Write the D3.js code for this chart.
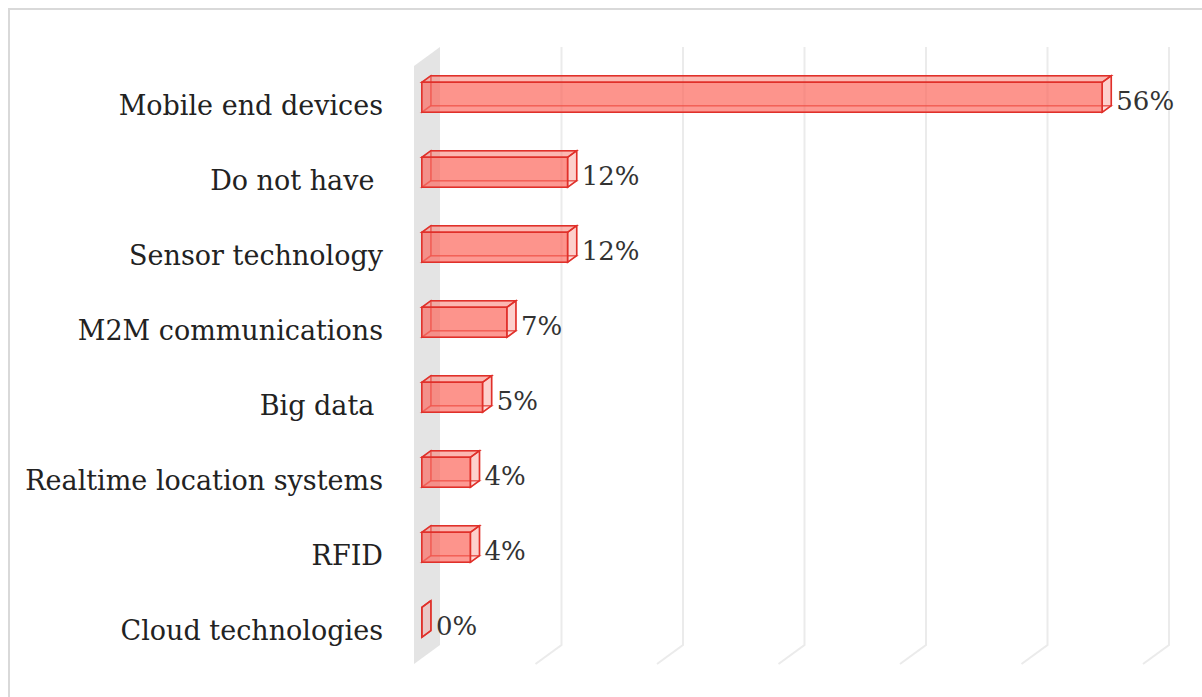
<!DOCTYPE html>
<html>
<head>
<meta charset="utf-8">
<script src="https://cdn.jsdelivr.net/npm/d3@7"></script>
<style>
  body { margin: 0; background: #fff; }
  text { white-space: pre; }
</style>
</head>
<body>
<div id="vis-holder"></div>
<script>
// Data
const categories = ["Mobile end devices", "Do not have ", "Sensor technology", "M2M communications",
                    "Big data ", "Realtime location systems", "RFID", "Cloud technologies"];
const values = [56, 12, 12, 7, 5, 4, 4, 0];
const ticks = [0, 10, 20, 30, 40, 50, 60];

const width = 1202;
const height = 697;

// 3D look: depth offset from front plane (z=0) to back wall (z=1)
const depthX = 26, depthY = -19;
const barZ0 = 0.3, barZ1 = 0.65;
const barH = 30;

const svg = d3.select("#vis-holder")
    .append("svg")
    .attr("width", width)
    .attr("height", height);

// outer frame (only top & left visible)
svg.append("rect")
    .attr("x", 9).attr("y", 9)
    .attr("width", 1210).attr("height", 710)
    .attr("fill", "#fff")
    .attr("stroke", "#d9d9d9")
    .attr("stroke-width", 2);

// scales on the front plane
const x = d3.scaleLinear().domain([0, 60]).range([414, 1143]);
const y = d3.scalePoint().domain(categories).range([103, 628]);

const yTop = 66, yBottom = 664;

// project a point (screen x,y on front plane) back by depth z
const px = (xv, z) => xv + depthX * z;
const py = (yv, z) => yv + depthY * z;

// left wall
svg.append("path")
    .attr("d", `M${px(x(0),0)},${yTop} L${px(x(0),1)},${py(yTop,1)} L${px(x(0),1)},${py(yBottom,1)} L${px(x(0),0)},${yBottom} Z`)
    .attr("fill", "#e4e4e4");

// gridlines on back wall + floor stubs
svg.append("g")
    .selectAll("path")
    .data(ticks.slice(1))
    .join("path")
    .attr("d", (t) => `M${px(x(t),1)},${py(yTop,1)} L${px(x(t),1)},${py(yBottom,1)} L${px(x(t),0)},${yBottom}`)
    .attr("fill", "none")
    .attr("stroke", "#ebebeb")
    .attr("stroke-width", 2);

// bars
const red = "#e0302a";
const bars = svg.append("g")
    .selectAll("g")
    .data(categories)
    .join("g");

bars.each(function(c, i) {
    const g = d3.select(this);
    const v = values[i];
    const xl = x(0), xr = x(v);
    const t = y(c) - barH / 2, b = y(c) + barH / 2;
    const P = (xx, yy, z) => [px(xx, z), py(yy, z)];
    const poly = (pts) => "M" + pts.map((p) => p.join(",")).join("L") + "Z";

    // back face
    g.append("path")
        .attr("d", poly([P(xl, t, barZ1), P(xr, t, barZ1), P(xr, b, barZ1), P(xl, b, barZ1)]))
        .attr("fill", "rgba(250,110,100,0.25)")
        .attr("stroke", red).attr("stroke-opacity", 0.5).attr("stroke-width", 1.5);
    // left (inner) face
    g.append("path")
        .attr("d", poly([P(xl, t, barZ0), P(xl, t, barZ1), P(xl, b, barZ1), P(xl, b, barZ0)]))
        .attr("fill", "rgba(250,110,100,0.15)")
        .attr("stroke", red).attr("stroke-opacity", 0.5).attr("stroke-width", 1.5);
    // bottom face
    g.append("path")
        .attr("d", poly([P(xl, b, barZ0), P(xr, b, barZ0), P(xr, b, barZ1), P(xl, b, barZ1)]))
        .attr("fill", "rgba(250,110,100,0.15)")
        .attr("stroke", red).attr("stroke-opacity", 0.5).attr("stroke-width", 1.5);
    // top face
    g.append("path")
        .attr("d", poly([P(xl, t, barZ0), P(xr, t, barZ0), P(xr, t, barZ1), P(xl, t, barZ1)]))
        .attr("fill", "rgba(250,120,110,0.35)")
        .attr("stroke", red).attr("stroke-width", 1.5);
    // right face
    g.append("path")
        .attr("d", poly([P(xr, t, barZ0), P(xr, t, barZ1), P(xr, b, barZ1), P(xr, b, barZ0)]))
        .attr("fill", "rgba(250,130,120,0.12)")
        .attr("stroke", red).attr("stroke-width", 1.5);
    // front face
    g.append("path")
        .attr("d", poly([P(xl, t, barZ0), P(xr, t, barZ0), P(xr, b, barZ0), P(xl, b, barZ0)]))
        .attr("fill", "rgba(252,100,90,0.6)")
        .attr("stroke", red).attr("stroke-width", 1.5);

    // value label
    g.append("text")
        .attr("x", px(xr, barZ1) + 5)
        .attr("y", y(c) - 2)
        .attr("dy", "0.36em")
        .attr("font-family", "DejaVu Serif")
        .attr("font-size", 26)
        .attr("fill", "#333")
        .text(v + "%");
});

// category labels
svg.append("g")
    .selectAll("text")
    .data(categories)
    .join("text")
    .attr("x", 383)
    .attr("y", (d) => y(d) + 2)
    .attr("dy", "0.36em")
    .attr("text-anchor", "end")
    .attr("font-family", "DejaVu Serif")
    .attr("font-size", 27)
    .attr("fill", "#222")
    .text((d) => d);
</script>
</body>
</html>
